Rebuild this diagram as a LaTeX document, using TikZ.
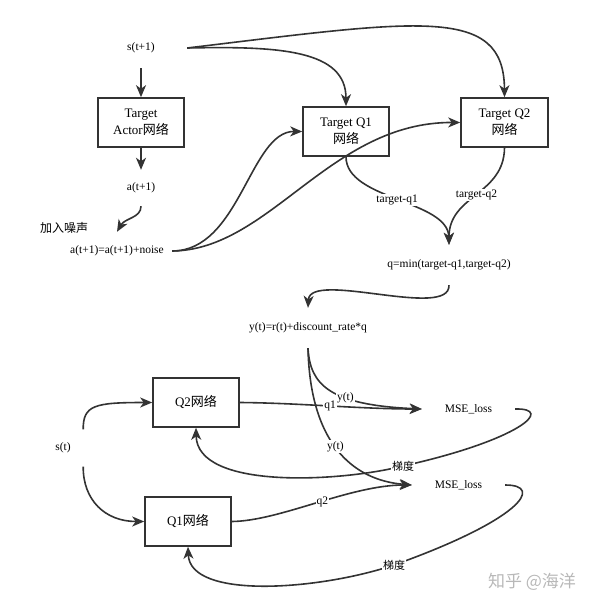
\documentclass[tikz,border=0pt]{standalone}
\usepackage{fontspec}
\setmainfont{Liberation Serif}
\newfontfamily\cjk{Noto Sans CJK SC}
\usetikzlibrary{arrows.meta}

% tailles de police
\def\txtfont{\fontsize{11.5}{13}\selectfont}
\def\boxfont{\fontsize{13}{17}\selectfont}

\tikzset{
  box/.style={draw=black!80, line width=1.6pt, minimum width=86pt, minimum height=49pt,
    inner sep=0pt, align=center, font=\boxfont},
  txt/.style={inner sep=0pt, font=\txtfont},
  lbl/.style={fill=white, inner sep=1pt, font=\txtfont},
  arr/.style={line width=1.6pt, draw=black!80, -{Stealth[length=12pt,width=10pt,inset=3.5pt]}},
}

\begin{document}
\begin{tikzpicture}[x=1pt,y=-1pt]
\useasboundingbox (0,0) rectangle (594,608);

% partie cible
\node[txt, minimum width=92pt, minimum height=40pt] (st1) at (141,48) {s(t+1)};
\node[box] (actor) at (141,122.5) {Target\\Actor{\cjk 网络}};
\node[txt, minimum width=60pt, minimum height=36pt] (at1) at (141,188) {a(t+1)};
\node[txt, minimum width=110pt, minimum height=38pt] (noise) at (117,251) {a(t+1)=a(t+1)+noise};
\node[txt, font=\fontsize{12}{14}\selectfont\cjk] (addnoise) at (64,228) {加入噪声};
\node[box] (tq1) at (346,131.5) {Target Q1\\{\cjk 网络}};
\node[box, minimum width=87pt] (tq2) at (504.5,122.5) {Target Q2\\{\cjk 网络}};
\node[txt, minimum width=140pt, minimum height=40pt] (qmin) at (449,265) {q=min(target-q1,target-q2)};
\node[txt, minimum width=140pt, minimum height=40pt] (yt) at (308,328) {y(t)=r(t)+discount\_rate*q};

% partie critique
\node[box] (q2net) at (196,402.5) {Q2{\cjk 网络}};
\node[box] (q1net) at (188,521.5) {Q1{\cjk 网络}};
\node[txt, minimum width=40pt, minimum height=37pt] (st) at (63,448) {s(t)};
\node[txt, minimum width=93pt, minimum height=20pt] (mse1) at (468.5,409) {MSE\_loss};
\node[txt, minimum width=93pt, minimum height=20pt] (mse2) at (458.5,485) {MSE\_loss};

% fleches du haut
\draw[arr] (st1.south) -- (actor.north);
\draw[arr] (st1.east) .. controls (280,46) and (346,50) .. (tq1.north);
\draw[arr] (st1.east) .. controls (420,20) and (504,5) .. (tq2.north);
\draw[arr] (actor.south) -- (at1.north);
\draw[arr] (at1.south) .. controls (141,218) and (125,218) .. (noise.north);
\draw[arr] (noise.east) .. controls (240,251) and (250,131) .. (tq1.west);
\draw[arr] (noise.east) .. controls (270,250) and (330,122) .. (tq2.west);
\draw[arr] (tq1.south) .. controls (346,200) and (448,200) .. node[lbl, pos=0.5] {target-q1} (qmin.north);
\draw[arr] (tq2.south) .. controls (504,195) and (449,195) .. node[lbl, pos=0.5] {target-q2} (qmin.north);
\draw[arr] (qmin.south) .. controls (450,320) and (310,270) .. (yt.north);

% fleches du bas
\draw[arr] (st.north east) .. controls (83,405) and (95,402.5) .. (q2net.west);
\draw[arr] (st.south east) .. controls (83,500) and (105,521.5) .. (q1net.west);
\draw[arr] (q2net.east) .. controls (300,403) and (360,409) .. node[lbl, pos=0.5] {q1} (mse1.west);
\draw[arr] (yt.south) .. controls (310,385) and (330,405) .. node[lbl, pos=0.62] {y(t)} (mse1.west);
\draw[arr] (yt.south) .. controls (310,440) and (350,480) .. node[lbl, pos=0.48] {y(t)} (mse2.west);
\draw[arr] (q1net.east) .. controls (280,521) and (350,485) .. node[lbl, pos=0.53] {q2} (mse2.west);
\draw[arr] (mse1.east) .. controls (555,408) and (520,440) .. (403,466) node[lbl, font=\fontsize{11}{13}\selectfont\cjk] (grad1) {梯度}
  .. controls (340,482) and (197,490) .. (q2net.south);
\draw[arr] (mse2.east) .. controls (545,485) and (520,520) .. (394,565) node[lbl, font=\fontsize{11}{13}\selectfont\cjk] (grad2) {梯度}
  .. controls (320,590) and (190,600) .. (q1net.south);

% filigrane
\node[txt, text=black!28, font=\fontsize{17}{19}\selectfont\cjk] (mark) at (532,582) {知乎 @海洋};
\end{tikzpicture}
\end{document}
